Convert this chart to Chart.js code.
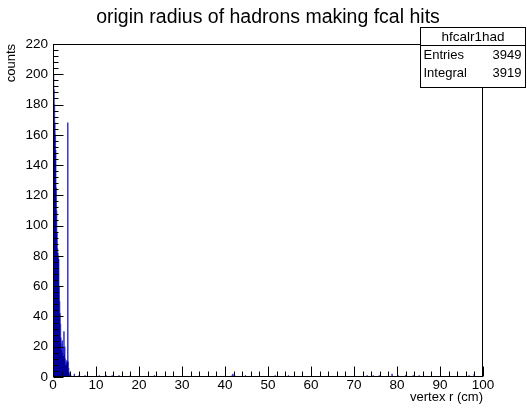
<!DOCTYPE html>
<html>
<head>
<meta charset="utf-8">
<script src="https://cdn.jsdelivr.net/npm/chart.js@4/dist/chart.umd.min.js"></script>
<style>
  html, body { margin: 0; padding: 0; background: #fff; }
  #wrap { position: relative; width: 527px; height: 414px; }
  canvas { display: block; }
</style>
</head>
<body>
<div id="wrap"><canvas id="c" width="527" height="414"></canvas></div>
<script>
// ---- data: histogram bins (low edge in cm, counts), bin width 0.1 cm ----
const titleText = "origin radius of hadrons making fcal hits";
const xTitle = "vertex r (cm)";
const yTitle = "counts";
const histName = "hfcalr1had";
const statLabels = ["Entries", "Integral"];
const statValues = ["3949", "3919"];
const binWidth = 0.1;

const coreLow = [0.0,0.1,0.2,0.3,0.4,0.5,0.6,0.7,0.8,0.9,
                 1.0,1.1,1.2,1.3,1.4,1.5,1.6,1.7,1.8,1.9,
                 2.0,2.1,2.2,2.3,2.4,2.5,2.6,2.7,2.8,2.9,
                 3.0,3.1,3.2,3.3,3.4,3.5,3.6,3.7,3.8,3.9,4.0,4.1];
const coreCounts = [210,200,190,180,168,160,150,125,110,95,
                    85,82,80,78,60,50,42,35,26,22,
                    18,24,16,20,14,30,15,20,12,8,
                    10,9,11,10,168,10,6,3,2,1,2,1];
const tailLow = [4.9,6.0,7.4,10.7,12.3,13.7,15.3,17.9,23.5,41.6,41.8,42.2,44.7,
                 51.6,54.7,73.0,74.4,75.8,78.8,80.2,81.9,83.7,85.1,96.7,97.9];
const tailCounts = [2,1,1,1,1,1,1,1,1,1,2,1,1,
                    1,1,1,1,1,2,1,1,1,1,1,2];

const xMin = 0, xMax = 100, xMajor = 10, xMinor = 2;
const yMin = 0, yMax = 220, yMajor = 20, yMinor = 4;

// build step outline points (value held from each bin's low edge to the next point)
const points = [];
coreLow.forEach((lo, i) => points.push({x: lo, y: coreCounts[i]}));
points.push({x: +(coreLow[coreLow.length-1] + binWidth).toFixed(2), y: 0});
tailLow.forEach((lo, i) => {
  points.push({x: lo, y: tailCounts[i]});
  points.push({x: +(lo + binWidth).toFixed(2), y: 0});
});

const FONT = "'Liberation Sans', Arial, Helvetica, sans-serif";

const rootPlugin = {
  id: 'rootDecor',
  afterDatasetsDraw(chart) {
    const ctx = chart.ctx;
    const a = chart.chartArea;
    const xs = chart.scales.x, ys = chart.scales.y;
    ctx.save();
    ctx.strokeStyle = '#000';
    ctx.lineWidth = 1;
    ctx.strokeRect(Math.round(a.left)+0.5, Math.round(a.top)+0.5,
                   Math.round(a.right-a.left)-1, Math.round(a.bottom-a.top)-1);
    ctx.beginPath();
    const yb = Math.round(a.bottom) - 0.5;
    for (let v = xMin; v <= xMax + 1e-9; v += xMinor) {
      const px = Math.round(xs.getPixelForValue(v)) + 0.5;
      const major = Math.abs(v / xMajor - Math.round(v / xMajor)) < 1e-6;
      ctx.moveTo(px, yb);
      ctx.lineTo(px, yb - (major ? 10 : 5));
    }
    const xl = Math.round(a.left) + 0.5;
    for (let v = yMin; v <= yMax + 1e-9; v += yMinor) {
      const py = Math.round(ys.getPixelForValue(v)) + 0.5;
      const major = Math.abs(v / yMajor - Math.round(v / yMajor)) < 1e-6;
      ctx.moveTo(xl, py);
      ctx.lineTo(xl + (major ? 10 : 5), py);
    }
    ctx.stroke();
    ctx.restore();
  },
  afterDraw(chart) {
    const ctx = chart.ctx;
    ctx.save();
    ctx.fillStyle = '#000';
    ctx.font = "19.5px " + FONT;
    ctx.textAlign = 'center';
    ctx.textBaseline = 'middle';
    ctx.fillText(titleText, 268, 18);
    const bx = 420.5, by = 27.5, bw = 105, bh = 60;
    ctx.fillStyle = '#fff';
    ctx.fillRect(bx, by, bw, bh);
    ctx.strokeStyle = '#000';
    ctx.lineWidth = 1;
    ctx.strokeRect(bx, by, bw, bh);
    ctx.beginPath();
    ctx.moveTo(bx, by + 18); ctx.lineTo(bx + bw, by + 18);
    ctx.stroke();
    ctx.fillStyle = '#000';
    ctx.font = "13.5px " + FONT;
    ctx.textAlign = 'center';
    ctx.fillText(histName, bx + bw/2, by + 9.5);
    ctx.font = "13px " + FONT;
    for (let i = 0; i < statLabels.length; i++) {
      const yy = by + 28 + i * 18;
      ctx.textAlign = 'left';
      ctx.fillText(statLabels[i], bx + 3, yy);
      ctx.textAlign = 'right';
      ctx.fillText(statValues[i], bx + bw - 4, yy);
    }
    ctx.restore();
  }
};

new Chart(document.getElementById('c'), {
  type: 'line',
  data: {
    datasets: [{
      label: histName,
      data: points,
      stepped: 'before',
      fill: 'origin',
      backgroundColor: '#000099',
      borderColor: '#1a1ad0',
      borderWidth: 0.7,
      pointRadius: 0,
      tension: 0
    }]
  },
  options: {
    responsive: false,
    animation: false,
    events: [],
    layout: { padding: { left: 0, right: 44, top: 44, bottom: 0 } },
    plugins: {
      legend: { display: false },
      tooltip: { enabled: false },
      title: { display: false }
    },
    scales: {
      x: {
        type: 'linear',
        min: xMin, max: xMax,
        offset: false,
        grid: { display: false, drawTicks: false },
        border: { display: false },
        ticks: {
          stepSize: xMajor,
          autoSkip: false,
          maxRotation: 0,
          padding: 0,
          color: '#000',
          font: { family: FONT, size: 13.5 }
        },
        title: {
          display: true,
          text: xTitle,
          align: 'end',
          color: '#000',
          font: { family: FONT, size: 13 },
          padding: { top: 0, bottom: 9 }
        },
        afterFit(scale) { scale.height = 37; }
      },
      y: {
        type: 'linear',
        min: yMin, max: yMax,
        grid: { display: false, drawTicks: false },
        border: { display: false },
        ticks: {
          stepSize: yMajor,
          autoSkip: false,
          padding: 5,
          color: '#000',
          font: { family: FONT, size: 13.5 }
        },
        title: {
          display: true,
          text: yTitle,
          align: 'end',
          color: '#000',
          font: { family: FONT, size: 13 },
          padding: { top: 4, bottom: 0 }
        },
        afterFit(scale) { scale.width = 53; }
      }
    }
  },
  plugins: [rootPlugin]
});
</script>
</body>
</html>
